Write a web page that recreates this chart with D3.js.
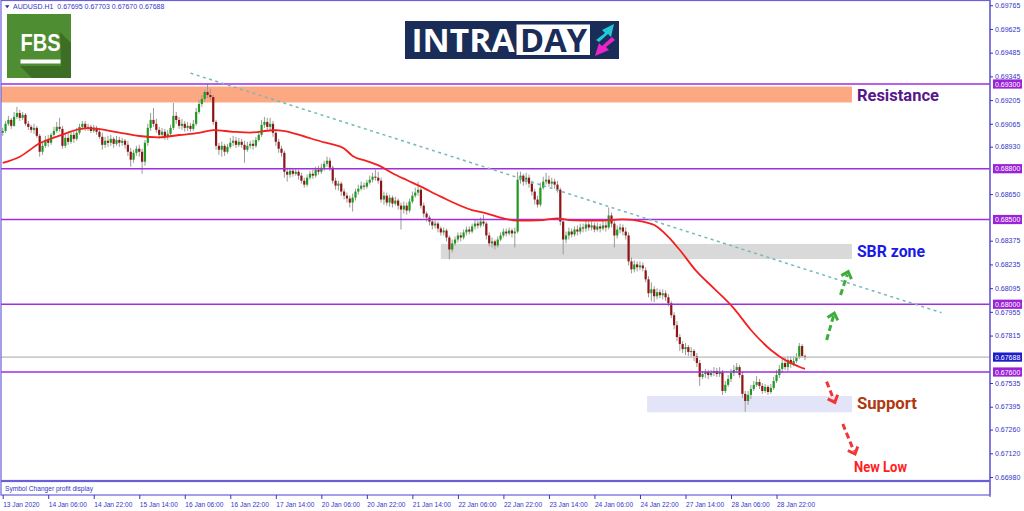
<!DOCTYPE html>
<html><head><meta charset="utf-8">
<script src="https://cdn.jsdelivr.net/npm/d3@7"></script>
<style>body{margin:0;background:#fff;overflow:hidden}svg{display:block}</style>
</head><body>
<svg id="c" width="1024" height="511"></svg>
<script>
// ---------- DATA (H1 candles [open, high, low, close]) ----------
const jan13 = [[0.69012,0.69041,0.68994,0.69023],[0.69023,0.69082,0.69012,0.69065],[0.69065,0.69112,0.69053,0.69088],[0.69088,0.69100,0.69035,0.69053],[0.69053,0.69135,0.69047,0.69106],[0.69106,0.69165,0.69094,0.69129],[0.69129,0.69147,0.69082,0.69100],[0.69100,0.69135,0.69088,0.69118],[0.69118,0.69129,0.69053,0.69065],[0.69065,0.69082,0.69029,0.69047]];
const jan14 = [[0.69047,0.69059,0.69012,0.69029],[0.69029,0.69065,0.69006,0.69041],[0.69041,0.69053,0.68982,0.68994],[0.68994,0.69006,0.68871,0.68900],[0.68900,0.68959,0.68882,0.68935],[0.68935,0.68994,0.68923,0.68970],[0.68970,0.69000,0.68929,0.68953],[0.68953,0.69012,0.68941,0.69000],[0.69000,0.69047,0.68988,0.69023],[0.69023,0.69076,0.69012,0.69047],[0.69047,0.69100,0.69018,0.69035],[0.69035,0.69053,0.68918,0.68935],[0.68935,0.69006,0.68923,0.68982],[0.68982,0.69012,0.68941,0.68959],[0.68959,0.69023,0.68947,0.69000],[0.69000,0.69029,0.68953,0.68976],[0.68976,0.69041,0.68965,0.69012],[0.69012,0.69065,0.69000,0.69047],[0.69047,0.69082,0.69029,0.69065],[0.69065,0.69082,0.69023,0.69041],[0.69041,0.69065,0.69023,0.69047],[0.69047,0.69059,0.69012,0.69023],[0.69023,0.69059,0.69012,0.69041],[0.69041,0.69053,0.69000,0.69018]];
const jan15 = [[0.69018,0.69041,0.68976,0.68988],[0.68988,0.69012,0.68912,0.68941],[0.68941,0.68988,0.68923,0.68965],[0.68965,0.68994,0.68929,0.68953],[0.68953,0.69000,0.68935,0.68976],[0.68976,0.68988,0.68923,0.68947],[0.68947,0.68994,0.68935,0.68970],[0.68970,0.68988,0.68929,0.68953],[0.68953,0.68982,0.68935,0.68965],[0.68965,0.68976,0.68918,0.68941],[0.68941,0.68965,0.68876,0.68900],[0.68900,0.68923,0.68812,0.68853],[0.68853,0.68912,0.68835,0.68894],[0.68894,0.68935,0.68876,0.68918],[0.68918,0.68941,0.68871,0.68900],[0.68900,0.68918,0.68770,0.68841],[0.68841,0.68970,0.68818,0.68953],[0.68953,0.69065,0.68935,0.69041],[0.69041,0.69129,0.69023,0.69088],[0.69088,0.69159,0.69047,0.69065],[0.69065,0.69094,0.69012,0.69029],[0.69029,0.69047,0.68976,0.69000],[0.69000,0.69041,0.68988,0.69018],[0.69018,0.69035,0.68970,0.68988]];
const jan16 = [[0.68988,0.69029,0.68970,0.69006],[0.69006,0.69059,0.68988,0.69041],[0.69041,0.69188,0.69029,0.69112],[0.69112,0.69135,0.69065,0.69088],[0.69088,0.69106,0.69035,0.69053],[0.69053,0.69094,0.69029,0.69065],[0.69065,0.69082,0.69018,0.69041],[0.69041,0.69076,0.69023,0.69053],[0.69053,0.69070,0.69018,0.69035],[0.69035,0.69088,0.69023,0.69065],[0.69065,0.69159,0.69053,0.69135],[0.69135,0.69206,0.69124,0.69182],[0.69182,0.69235,0.69165,0.69212],[0.69212,0.69265,0.69194,0.69253],[0.69253,0.69297,0.69218,0.69235],[0.69235,0.69271,0.69206,0.69223],[0.69223,0.69235,0.69059,0.69076],[0.69076,0.69088,0.68912,0.68935],[0.68935,0.68953,0.68882,0.68912],[0.68912,0.68959,0.68871,0.68935],[0.68935,0.68947,0.68876,0.68900],[0.68900,0.68947,0.68888,0.68929],[0.68929,0.68982,0.68918,0.68953],[0.68953,0.68994,0.68935,0.68965]];
const jan17 = [[0.68965,0.68988,0.68923,0.68941],[0.68941,0.68982,0.68929,0.68959],[0.68959,0.68976,0.68923,0.68941],[0.68941,0.68965,0.68835,0.68912],[0.68912,0.68959,0.68900,0.68935],[0.68935,0.68965,0.68918,0.68947],[0.68947,0.68970,0.68912,0.68935],[0.68935,0.68988,0.68923,0.68970],[0.68970,0.69023,0.68959,0.69000],[0.69000,0.69088,0.68988,0.69059],[0.69059,0.69106,0.69041,0.69076],[0.69076,0.69100,0.69029,0.69047],[0.69047,0.69100,0.69023,0.69065],[0.69065,0.69082,0.68988,0.69012],[0.69012,0.69029,0.68935,0.68959],[0.68959,0.68976,0.68894,0.68918],[0.68918,0.68935,0.68871,0.68894],[0.68894,0.68906,0.68747,0.68782],[0.68782,0.68806,0.68724,0.68765],[0.68765,0.68806,0.68747,0.68788],[0.68788,0.68800,0.68753,0.68770],[0.68770,0.68800,0.68759,0.68782],[0.68782,0.68794,0.68735,0.68759],[0.68759,0.68776,0.68712,0.68729]];
const jan20 = [[0.68729,0.68747,0.68688,0.68706],[0.68706,0.68765,0.68694,0.68747],[0.68747,0.68788,0.68735,0.68770],[0.68770,0.68794,0.68741,0.68759],[0.68759,0.68812,0.68747,0.68794],[0.68794,0.68818,0.68765,0.68782],[0.68782,0.68829,0.68770,0.68806],[0.68806,0.68847,0.68788,0.68829],[0.68829,0.68871,0.68812,0.68847],[0.68847,0.68865,0.68788,0.68806],[0.68806,0.68818,0.68712,0.68729],[0.68729,0.68747,0.68676,0.68700],[0.68700,0.68729,0.68671,0.68712],[0.68712,0.68724,0.68641,0.68665],[0.68665,0.68682,0.68618,0.68641],[0.68641,0.68659,0.68600,0.68624],[0.68624,0.68641,0.68571,0.68600],[0.68600,0.68653,0.68547,0.68629],[0.68629,0.68682,0.68612,0.68665],[0.68665,0.68706,0.68647,0.68682],[0.68682,0.68724,0.68671,0.68700],[0.68700,0.68718,0.68676,0.68694],[0.68694,0.68735,0.68682,0.68718],[0.68718,0.68759,0.68706,0.68735]];
const jan21 = [[0.68735,0.68776,0.68718,0.68753],[0.68753,0.68794,0.68729,0.68747],[0.68747,0.68782,0.68712,0.68729],[0.68729,0.68747,0.68600,0.68618],[0.68618,0.68665,0.68588,0.68641],[0.68641,0.68659,0.68582,0.68600],[0.68600,0.68647,0.68576,0.68629],[0.68629,0.68641,0.68571,0.68594],[0.68594,0.68635,0.68582,0.68612],[0.68612,0.68624,0.68559,0.68582],[0.68582,0.68600,0.68441,0.68559],[0.68559,0.68606,0.68535,0.68582],[0.68582,0.68600,0.68529,0.68553],[0.68553,0.68624,0.68541,0.68606],[0.68606,0.68665,0.68594,0.68641],[0.68641,0.68688,0.68629,0.68659],[0.68659,0.68724,0.68641,0.68676],[0.68676,0.68688,0.68565,0.68582],[0.68582,0.68600,0.68512,0.68535],[0.68535,0.68547,0.68488,0.68512],[0.68512,0.68524,0.68465,0.68488],[0.68488,0.68500,0.68441,0.68465],[0.68465,0.68494,0.68447,0.68476],[0.68476,0.68488,0.68424,0.68447]];
const jan22 = [[0.68447,0.68459,0.68406,0.68424],[0.68424,0.68453,0.68406,0.68435],[0.68435,0.68447,0.68371,0.68394],[0.68394,0.68406,0.68265,0.68323],[0.68323,0.68382,0.68306,0.68359],[0.68359,0.68400,0.68347,0.68382],[0.68382,0.68424,0.68365,0.68406],[0.68406,0.68424,0.68371,0.68394],[0.68394,0.68441,0.68382,0.68424],[0.68424,0.68459,0.68406,0.68441],[0.68441,0.68459,0.68412,0.68429],[0.68429,0.68476,0.68418,0.68459],[0.68459,0.68500,0.68441,0.68476],[0.68476,0.68494,0.68447,0.68465],[0.68465,0.68512,0.68453,0.68488],[0.68488,0.68529,0.68459,0.68476],[0.68476,0.68488,0.68382,0.68406],[0.68406,0.68424,0.68341,0.68359],[0.68359,0.68394,0.68335,0.68371],[0.68371,0.68382,0.68323,0.68347],[0.68347,0.68400,0.68335,0.68382],[0.68382,0.68424,0.68371,0.68406],[0.68406,0.68447,0.68394,0.68429],[0.68429,0.68447,0.68400,0.68418]];
const jan23 = [[0.68418,0.68453,0.68406,0.68435],[0.68435,0.68447,0.68394,0.68418],[0.68418,0.68453,0.68335,0.68429],[0.68429,0.68782,0.68418,0.68735],[0.68735,0.68782,0.68712,0.68759],[0.68759,0.68770,0.68700,0.68724],[0.68724,0.68776,0.68706,0.68747],[0.68747,0.68765,0.68688,0.68712],[0.68712,0.68729,0.68641,0.68665],[0.68665,0.68682,0.68588,0.68618],[0.68618,0.68641,0.68571,0.68588],[0.68588,0.68718,0.68576,0.68688],[0.68688,0.68753,0.68676,0.68724],[0.68724,0.68776,0.68706,0.68735],[0.68735,0.68759,0.68694,0.68712],[0.68712,0.68747,0.68688,0.68724],[0.68724,0.68741,0.68682,0.68706],[0.68706,0.68729,0.68659,0.68676],[0.68676,0.68688,0.68465,0.68488],[0.68488,0.68506,0.68294,0.68382],[0.68382,0.68429,0.68359,0.68406],[0.68406,0.68453,0.68382,0.68429],[0.68429,0.68447,0.68394,0.68412],[0.68412,0.68459,0.68400,0.68441]];
const jan24 = [[0.68441,0.68465,0.68406,0.68429],[0.68429,0.68476,0.68412,0.68453],[0.68453,0.68476,0.68424,0.68447],[0.68447,0.68494,0.68429,0.68471],[0.68471,0.68488,0.68435,0.68453],[0.68453,0.68488,0.68435,0.68465],[0.68465,0.68482,0.68424,0.68441],[0.68441,0.68482,0.68429,0.68459],[0.68459,0.68476,0.68424,0.68447],[0.68447,0.68494,0.68435,0.68465],[0.68465,0.68500,0.68429,0.68453],[0.68453,0.68571,0.68441,0.68524],[0.68524,0.68541,0.68453,0.68476],[0.68476,0.68494,0.68335,0.68406],[0.68406,0.68465,0.68388,0.68441],[0.68441,0.68476,0.68418,0.68453],[0.68453,0.68471,0.68406,0.68429],[0.68429,0.68453,0.68382,0.68406],[0.68406,0.68424,0.68229,0.68253],[0.68253,0.68276,0.68182,0.68206],[0.68206,0.68259,0.68188,0.68235],[0.68235,0.68253,0.68194,0.68218],[0.68218,0.68253,0.68200,0.68229],[0.68229,0.68247,0.68194,0.68212]];
const jan27 = [[0.68200,0.68218,0.68129,0.68147],[0.68147,0.68165,0.68041,0.68065],[0.68065,0.68129,0.68018,0.68088],[0.68088,0.68106,0.68012,0.68047],[0.68047,0.68094,0.68029,0.68071],[0.68071,0.68088,0.68035,0.68053],[0.68053,0.68088,0.68029,0.68065],[0.68065,0.68082,0.68018,0.68041],[0.68041,0.68059,0.67988,0.68006],[0.68006,0.68018,0.67918,0.67935],[0.67935,0.67953,0.67853,0.67876],[0.67876,0.67900,0.67782,0.67806],[0.67806,0.67824,0.67724,0.67765],[0.67765,0.67782,0.67712,0.67735],[0.67735,0.67771,0.67700,0.67747],[0.67747,0.67759,0.67694,0.67718],[0.67718,0.67747,0.67688,0.67724],[0.67724,0.67735,0.67665,0.67694],[0.67694,0.67712,0.67629,0.67653],[0.67653,0.67671,0.67518,0.67571],[0.67571,0.67606,0.67559,0.67588],[0.67588,0.67618,0.67565,0.67600],[0.67600,0.67612,0.67559,0.67582],[0.67582,0.67612,0.67571,0.67594]];
const jan28 = [[0.67594,0.67629,0.67576,0.67606],[0.67606,0.67624,0.67571,0.67588],[0.67588,0.67629,0.67571,0.67600],[0.67600,0.67612,0.67465,0.67488],[0.67488,0.67547,0.67476,0.67524],[0.67524,0.67582,0.67512,0.67559],[0.67559,0.67618,0.67541,0.67594],[0.67594,0.67641,0.67576,0.67612],[0.67612,0.67653,0.67594,0.67629],[0.67629,0.67641,0.67565,0.67582],[0.67582,0.67600,0.67447,0.67471],[0.67471,0.67488,0.67365,0.67429],[0.67429,0.67488,0.67406,0.67465],[0.67465,0.67524,0.67441,0.67500],[0.67500,0.67547,0.67488,0.67524],[0.67524,0.67576,0.67512,0.67541],[0.67541,0.67559,0.67500,0.67518],[0.67518,0.67535,0.67471,0.67488],[0.67488,0.67529,0.67476,0.67512],[0.67512,0.67524,0.67465,0.67482],[0.67482,0.67529,0.67471,0.67506],[0.67506,0.67571,0.67494,0.67547],[0.67547,0.67612,0.67535,0.67582],[0.67582,0.67641,0.67565,0.67618]];
const jan29 = [[0.67618,0.67676,0.67594,0.67653],[0.67653,0.67688,0.67612,0.67629],[0.67629,0.67694,0.67606,0.67671],[0.67671,0.67694,0.67624,0.67647],[0.67647,0.67694,0.67635,0.67665],[0.67665,0.67712,0.67653,0.67688],[0.67688,0.67771,0.67676,0.67753],[0.67753,0.67765,0.67688,0.67695],[0.67695,0.67703,0.67670,0.67688]];

// moving average : bar index -> value
const maBars   = [0,6,13,20,27,30,34,41,48,55,62,69,74,81,87,93,96,101,107,113,116,120,123,128,133,137,142,147,154,165,170,176,181,190,195,199,209,218,225,230,235,238,244,250,257,263,270,276,280,282];
const maValues = [0.68834,0.68871,0.68950,0.68995,0.69033,0.69039,0.69034,0.69013,0.68993,0.68985,0.68999,0.69011,0.69028,0.69018,0.69013,0.69024,0.69028,0.69015,0.68985,0.68956,0.68944,0.68920,0.68875,0.68845,0.68812,0.68773,0.68733,0.68694,0.68635,0.68556,0.68537,0.68507,0.68493,0.68497,0.68507,0.68497,0.68493,0.68501,0.68487,0.68458,0.68379,0.68320,0.68192,0.68094,0.67976,0.67848,0.67730,0.67661,0.67631,0.67618];

const levels = [0.69300, 0.68800, 0.68500, 0.68000, 0.67600];
const lastPrice = 0.67688;
const symbolHeader = "AUDUSD.H1  0.67695 0.67703 0.67670 0.67688";

// visible price-axis labels (those hidden under the level boxes are left out)
const yTicks = [0.69765,0.69625,0.69485,0.69345,0.69205,0.69065,0.68930,0.68650,0.68375,0.68235,0.68095,0.67955,0.67815,0.67535,0.67395,0.67260,0.67120,0.66980];
const timeTickBars = [0,16,32,48,64,80,96,112,128,144,160,176,192,208,224,240,256,272];
const timeTickLabels = ["13 Jan 2020","14 Jan 06:00","14 Jan 22:00","15 Jan 14:00","16 Jan 06:00","16 Jan 22:00","17 Jan 14:00","20 Jan 06:00","20 Jan 22:00","21 Jan 14:00","22 Jan 06:00","22 Jan 22:00","23 Jan 14:00","24 Jan 06:00","24 Jan 22:00","27 Jan 14:00","28 Jan 06:00","28 Jan 22:00"];

// annotation zones
const zoneNames = ["Resistance","SBR zone","Support"];
const zoneStartBar = [-0.6, 154, 226.5];
const zoneEndBar = [298.5, 298.5, 298.5];
const zoneTop = [0.69285, 0.68356, 0.67458];
const zoneBottom = [0.69191, 0.68267, 0.67362];

// dashed trend line [bar, price]
const trendStart = [66, 0.69364];
const trendEnd = [330, 0.67950];

// dashed arrows: [[tailBar, tailPrice],[tipBar, tipPrice]]
const upArrows = [[[289.6,0.67789],[292.3,0.67947]], [[294.5,0.68055],[297.2,0.68192]]];
const downArrows = [[[289.6,0.67543],[292.5,0.67421]], [[295.3,0.67293],[299.6,0.67116]]];
const newLowText = "New Low";

// ---------- DRAW ----------
const candles = [].concat(jan13,jan14,jan15,jan16,jan17,jan20,jan21,jan22,jan23,jan24,jan27,jan28,jan29);
const svg = d3.select("#c");
const FR = "#6a5fd8", TXT = "#3535c8", PURP = "#a12de0";
const x = d3.scaleLinear().domain([0,347]).range([2.7,989.9]);
const y = d3.scaleLinear().domain([0.693,0.676]).range([84,372]);
const plotL = 1, plotR = 990, plotT = 1, plotB = 481;

svg.append("defs").append("clipPath").attr("id","pc").append("rect")
  .attr("x",plotL).attr("y",plotT).attr("width",plotR-plotL).attr("height",plotB-plotT);
const plot = svg.append("g").attr("clip-path","url(#pc)");

// zones
const zoneFill = ["#fca882","#d9d9d9","#e4e4f8"];
zoneNames.forEach((n,i)=>{
  plot.append("rect").attr("x",x(zoneStartBar[i])).attr("width",x(zoneEndBar[i])-x(zoneStartBar[i]))
    .attr("y",y(zoneTop[i])).attr("height",y(zoneBottom[i])-y(zoneTop[i])).attr("fill",zoneFill[i]);
});

// candles
const cg = plot.append("g");
candles.forEach((c,i)=>{
  const [o,h,l,cl] = c, cx = x(i);
  cg.append("line").attr("x1",cx).attr("x2",cx).attr("y1",y(h)).attr("y2",y(l))
    .attr("stroke","#9a9a9a").attr("stroke-width",1);
  const top = y(Math.max(o,cl)), bot = y(Math.min(o,cl));
  cg.append("rect").attr("x",cx-1.1).attr("width",2.2).attr("y",top).attr("height",Math.max(1,bot-top))
    .attr("fill", cl>=o ? "#1f9a1f" : "#8e1515");
});

// level lines
levels.forEach(v=>{
  plot.append("line").attr("x1",plotL).attr("x2",plotR).attr("y1",y(v)).attr("y2",y(v))
    .attr("stroke",PURP).attr("stroke-width",1.6);
});
plot.append("line").attr("x1",plotL).attr("x2",plotR).attr("y1",y(lastPrice)).attr("y2",y(lastPrice))
  .attr("stroke","#b8b8b8").attr("stroke-width",1.4);

// moving average
plot.append("path").datum(maBars.map((b,i)=>[b,maValues[i]]))
  .attr("d", d3.line().x(d=>x(d[0])).y(d=>y(d[1])).curve(d3.curveMonotoneX))
  .attr("fill","none").attr("stroke","#f42020").attr("stroke-width",1.8);

// trend line
plot.append("line").attr("x1",x(trendStart[0])).attr("y1",y(trendStart[1]))
  .attr("x2",x(trendEnd[0])).attr("y2",y(trendEnd[1]))
  .attr("stroke","#74b9b9").attr("stroke-width",1.5).attr("stroke-dasharray","3,3.5");

// dashed arrows
function arrow(a, color){
  const x0=x(a[0][0]), y0=y(a[0][1]), x1=x(a[1][0]), y1=y(a[1][1]);
  const dx=x1-x0, dy=y1-y0, L=Math.hypot(dx,dy), ux=dx/L, uy=dy/L;
  plot.append("line").attr("x1",x0).attr("y1",y0).attr("x2",x1-ux*3).attr("y2",y1-uy*3)
    .attr("stroke",color).attr("stroke-width",3).attr("stroke-dasharray","6,3.5");
  const ang = 42*Math.PI/180, s=8;
  const arm = sgn => { const c=Math.cos(sgn*ang), sn=Math.sin(sgn*ang);
    const bx=-ux, by=-uy; return [x1+(bx*c-by*sn)*s, y1+(bx*sn+by*c)*s]; };
  const p1=arm(1), p2=arm(-1);
  plot.append("path").attr("d",`M${p1[0]},${p1[1]}L${x1},${y1}L${p2[0]},${p2[1]}`)
    .attr("fill","none").attr("stroke",color).attr("stroke-width",3);
}
upArrows.forEach(a=>arrow(a,"#3cae3c"));
downArrows.forEach(a=>arrow(a,"#f23434"));

// zone labels
const labelColor = ["#57178a","#1a1ae6","#b0380f"];
const labelSize = [17,17,16];
const labelLen = [82,68,60];
const labelDy = [6.5,5.5,4.5];
zoneNames.forEach((n,i)=>{
  svg.append("text").attr("x",x(zoneEndBar[i])+5).attr("y",(y(zoneTop[i])+y(zoneBottom[i]))/2+labelDy[i])
    .attr("font-family","Roboto, 'Liberation Sans', sans-serif").attr("font-weight",700)
    .attr("font-size",labelSize[i]).attr("fill",labelColor[i])
    .attr("textLength",labelLen[i]).attr("lengthAdjust","spacingAndGlyphs").text(n);
});
const lastDown = downArrows[downArrows.length-1][1];
svg.append("text").attr("x",x(lastDown[0])-1).attr("y",y(lastDown[1])+18)
  .attr("font-family","Roboto, 'Liberation Sans', sans-serif").attr("font-weight",700)
  .attr("font-size",14).attr("fill","#ff1e1e").attr("textLength",53).attr("lengthAdjust","spacingAndGlyphs")
  .text(newLowText);

// frames
svg.append("rect").attr("x",plotL).attr("y",0.5).attr("width",plotR-plotL).attr("height",480)
  .attr("fill","none").attr("stroke",FR).attr("stroke-width",1.2);
svg.append("rect").attr("x",plotL).attr("y",481.5).attr("width",plotR-plotL).attr("height",13.5)
  .attr("fill","none").attr("stroke",FR).attr("stroke-width",1.2);
svg.append("line").attr("x1",plotR).attr("x2",plotR).attr("y1",0).attr("y2",497).attr("stroke",FR).attr("stroke-width",1.2);
svg.append("text").attr("x",5).attr("y",490.5).attr("font-family","'Liberation Sans', sans-serif")
  .attr("font-size",6.6).attr("fill",TXT).text("Symbol Changer profit display");

// right price axis
const ya = svg.append("g").attr("transform",`translate(${plotR},0)`)
  .call(d3.axisRight(y).tickValues(yTicks).tickSize(3).tickPadding(2).tickFormat(d3.format(".5f")));
ya.select(".domain").remove();
ya.selectAll("line").attr("stroke",TXT);
ya.selectAll("text").attr("fill",TXT).attr("font-size",7).attr("font-family","'Liberation Sans', sans-serif");

// price boxes
function priceBox(v, bg){
  const g = svg.append("g").attr("transform",`translate(993,${y(v)})`);
  g.append("rect").attr("x",0).attr("y",-4.6).attr("width",29).attr("height",9.2).attr("fill",bg);
  g.append("text").attr("x",2).attr("y",2.6).attr("fill","#fff").attr("font-size",7)
    .attr("font-family","'Liberation Sans', sans-serif").text(d3.format(".5f")(v));
}
levels.forEach(v=>priceBox(v,"#9b22d6"));
priceBox(lastPrice,"#1c1cc8");

// time axis
const xa = svg.append("g").attr("transform","translate(0,495)")
  .call(d3.axisBottom(x).tickValues(timeTickBars).tickSize(4).tickPadding(3).tickFormat((d,i)=>timeTickLabels[i]));
xa.select(".domain").remove();
xa.selectAll("line").attr("stroke",TXT);
xa.selectAll("text").attr("text-anchor","start").attr("x",0).attr("fill",TXT)
  .attr("font-size",6.6).attr("font-family","'Liberation Sans', sans-serif");

// header
svg.append("path").attr("d","M5,5.2L9.4,5.2L7.2,8.2Z").attr("fill","#2a2ab0");
svg.append("text").attr("x",13).attr("y",9.4).attr("xml:space","preserve").attr("font-size",7)
  .attr("font-family","'Liberation Sans', sans-serif").attr("fill",TXT).text(symbolHeader);

// FBS logo
const fbs = svg.append("g");
fbs.append("rect").attr("x",7).attr("y",14).attr("width",64).attr("height",64).attr("fill","#4f8d33");
fbs.append("path").attr("d","M60,32L71,43L71,78L32,78L20,66L61,66Z").attr("fill","#3c6f25");
fbs.append("text").attr("x",20.5).attr("y",50.5).attr("fill","#fff").attr("font-weight",700)
  .attr("font-size",24).attr("font-family","'Liberation Sans', sans-serif")
  .attr("textLength",40).attr("lengthAdjust","spacingAndGlyphs").text("FBS");
fbs.append("rect").attr("x",20.5).attr("y",59.5).attr("width",40).attr("height",4).attr("fill","#fff");

// INTRADAY logo
const it = svg.append("g");
it.append("rect").attr("x",405).attr("y",21).attr("width",214).attr("height",38).attr("fill","#1a2d59");
it.append("text").attr("x",411.5).attr("y",51.5).attr("fill","#fff").attr("font-weight",700)
  .attr("font-size",32).attr("font-family","'Open Sans', 'Liberation Sans', sans-serif")
  .attr("textLength",103).attr("lengthAdjust","spacingAndGlyphs").text("INTRA");
it.append("rect").attr("x",516.5).attr("y",24.5).attr("width",73.5).attr("height",30.5).attr("fill","#fff");
it.append("text").attr("x",520).attr("y",51.5).attr("fill","#1a2d59").attr("font-weight",700)
  .attr("font-size",32).attr("font-family","'Open Sans', 'Liberation Sans', sans-serif")
  .attr("textLength",67).attr("lengthAdjust","spacingAndGlyphs").text("DAY");
// cyan arrow (up-right) and magenta arrow (down-left)
it.append("path").attr("d","M596,40L605,33L602,30L614,24L611,37L608,34L599,42Z").attr("fill","#20c8d8");
it.append("path").attr("d","M615,40L606,47L609,50L595,56L599,43L602,46L612,37Z").attr("fill","#e826c8");
</script>
</body></html>
